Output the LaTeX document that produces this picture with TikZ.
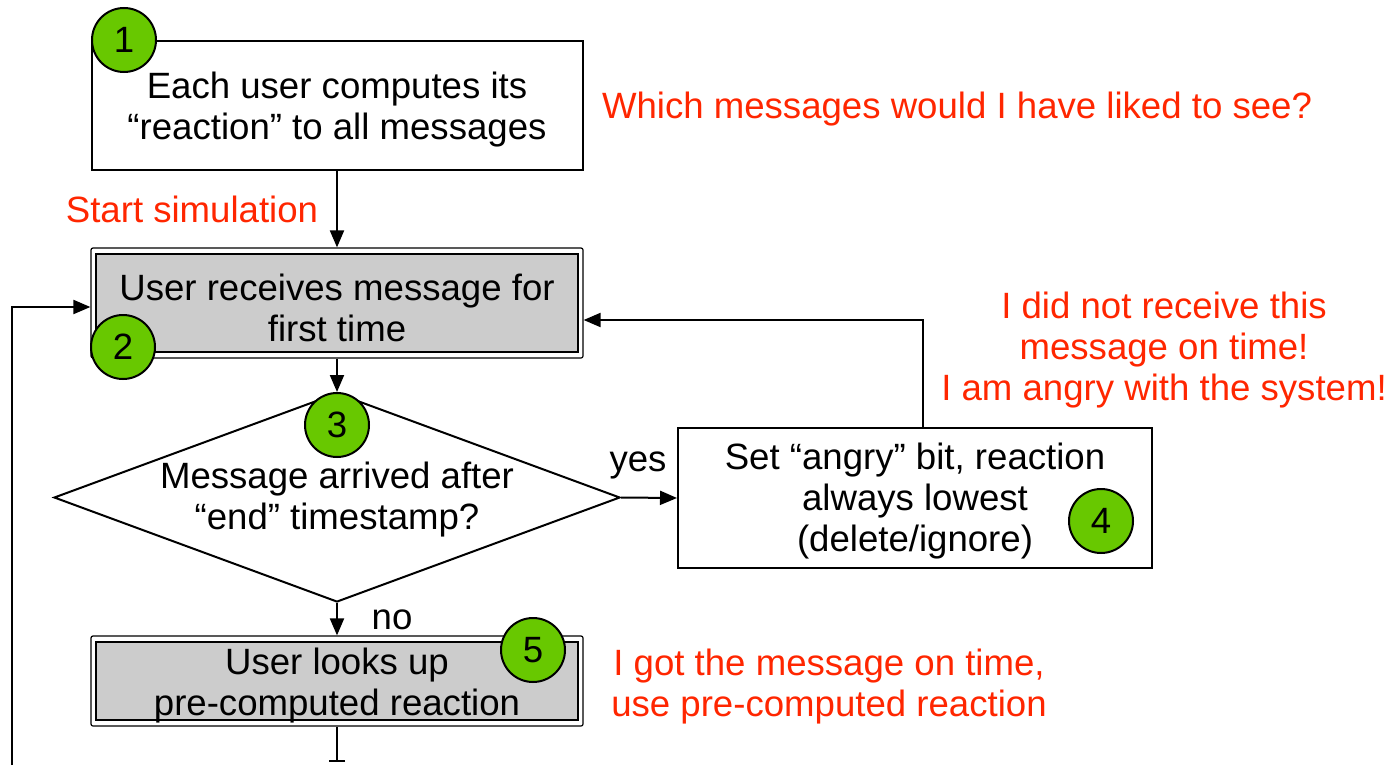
\documentclass[tikz,border=0pt]{standalone}
\usepackage{fontspec}
\setmainfont{Liberation Sans}
\usetikzlibrary{arrows.meta,shapes.geometric,calc}
\definecolor{notered}{RGB}{255,38,0}
\definecolor{badgegreen}{RGB}{104,200,0}
\definecolor{boxgray}{RGB}{204,204,204}
\begin{document}
\begin{tikzpicture}[x=0.5pt,y=-0.5pt,
  every node/.style={font=\fontsize{18.3}{20.5}\selectfont},
  txt/.style={align=center, inner sep=0pt},
  note/.style={text=notered, align=center, inner sep=0pt},
  plainbox/.style={draw, line width=1pt, fill=white, inner sep=0pt},
  outerbox/.style={draw, line width=0.6pt, fill=white, inner sep=0pt, rounded corners=1pt},
  innerbox/.style={draw, line width=1pt, fill=boxgray, inner sep=0pt},
  badge/.style={circle, draw, line width=1pt, fill=badgegreen, minimum size=32pt, inner sep=0pt},
  arr/.style={line width=1pt, -{Triangle[length=8.5pt,width=7pt]}},
  line/.style={line width=1pt}
]
\useasboundingbox (0,0) rectangle (1390,765);

% box 1
\node[plainbox, minimum width=245.5pt, minimum height=64.5pt] (b1) at (337.5,105.5) {};
\node[txt] (b1t) at (337,109.5) {Each user computes its\\“reaction” to all messages};

% box 2
\node[outerbox, minimum width=246pt, minimum height=55pt] (b2o) at (337,303) {};
\node[innerbox, minimum width=241pt, minimum height=49pt] (b2) at (337,303) {};
\node[txt] (b2t) at (337,308) {User receives message for\\first time};

% decision
\node[diamond, draw, line width=1pt, fill=white, minimum width=283pt, minimum height=104.5pt,
  aspect=2.71, inner sep=0pt] (dia) at (337,497.5) {};
\node[txt] (diat) at (337,499.5) {Message arrived after\\“end” timestamp?};

% box 4
\node[plainbox, minimum width=237pt, minimum height=70pt] (b4) at (915,498) {};
\node[txt] (b4t) at (915,501) {Set “angry” bit, reaction\\always lowest\\(delete/ignore)};

% box 5
\node[outerbox, minimum width=246pt, minimum height=45pt] (b5o) at (337,681) {};
\node[innerbox, minimum width=241pt, minimum height=39pt] (b5) at (337,681) {};
\node[txt] (b5t) at (337,686) {User looks up\\pre-computed reaction};

% free ends
\coordinate (bot) at (337,762);
\coordinate (lb) at (12,765);

% connectors
\draw[arr] (b1.south -| b2o.north) -- (b2o.north);
\draw[arr] (b2o.south) -- (dia.north);
\draw[arr] (dia.east) -- (b4.west);
\node[txt] (yes) at (638,465) {yes};
\draw[arr] ($(b4.north)+(8,0)$) |- ($(b2o.east)+(0,17)$);
\draw[arr] (dia.south) -- (b5o.north);
\node[txt] (no) at (392,620) {no};
\draw[line, -{Bar[width=8pt]}] (b5o.south) -- (bot);
\draw[arr] (lb) |- ($(b2o.west)+(0,4)$);

% badges
\node[badge] (n1) at (124,40) {1};
\node[badge] (n2) at (123,347) {2};
\node[badge] (n3) at (337,425) {3};
\node[badge] (n4) at (1101,521) {4};
\node[badge] (n5) at (533,650) {5};

% notes
\node[note] (w1) at (957,109) {Which messages would I have liked to see?};
\node[note] (w2) at (192,209) {Start simulation};
\node[note] (w3) at (1164,350) {I did not receive this\\message on time!\\I am angry with the system!};
\node[note] (w4) at (829,687) {I got the message on time,\\use pre-computed reaction};
\end{tikzpicture}
\end{document}
